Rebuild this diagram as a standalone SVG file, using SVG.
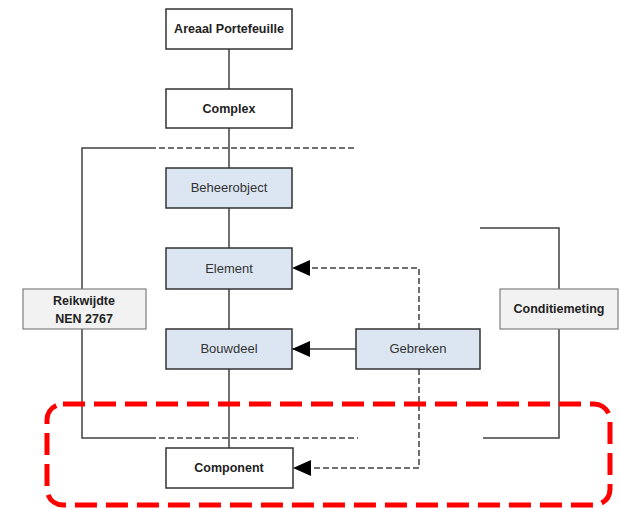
<svg xmlns="http://www.w3.org/2000/svg" width="621" height="508" viewBox="0 0 621 508">
<defs>
<marker id="ah" markerWidth="18" markerHeight="16" refX="18" refY="8" orient="auto" markerUnits="userSpaceOnUse">
<path d="M0,0 L18,8 L0,16 Z" fill="#000"/>
</marker>
<style>
.box{fill:#fff;stroke:#333;stroke-width:1.5}
.blue{fill:#dce6f2;stroke:#333;stroke-width:1.5}
.gray{fill:#f2f2f2;stroke:#7f7f7f;stroke-width:1.2}
.t{font-family:"Liberation Sans",Arial,sans-serif;font-size:13px;fill:#333;text-anchor:middle}
.b{font-weight:bold;font-size:12.5px;fill:#222}
.ln{stroke:#404040;stroke-width:1.5;fill:none}
.dl{stroke:#404040;stroke-width:1.5;fill:none;stroke-dasharray:6,3}
.red{fill:none;stroke:#ff0000;stroke-width:5;stroke-dasharray:22,9}
</style>
</defs>
<g id="connectors">
<line class="ln" x1="229" y1="49" x2="229" y2="448"/>
<polyline class="ln" points="150,148 82,148 82,289"/>
<line class="dl" x1="150" y1="148" x2="357" y2="148"/>
<polyline class="ln" points="82,329 82,438 150,438"/>
<line class="dl" x1="150" y1="438" x2="358" y2="438"/>
<polyline class="ln" points="480,228 559,228 559,289"/>
<polyline class="ln" points="559,329 559,438 483,438"/>
<line class="ln" x1="356" y1="349" x2="292" y2="349" marker-end="url(#ah)"/>
<polyline class="dl" points="419,329 419,268 292,268" marker-end="url(#ah)"/>
<polyline class="dl" points="419,369 419,468 293,468" marker-end="url(#ah)"/>
</g>
<g id="areaal"><rect class="box" x="166" y="9" width="126" height="40"/><text class="t b" x="229" y="33">Areaal Portefeuille</text></g>
<g id="complex"><rect class="box" x="166" y="89" width="126" height="39"/><text class="t b" x="229" y="113">Complex</text></g>
<g id="beheerobject"><rect class="blue" x="166" y="168" width="126" height="40"/><text class="t" x="229" y="192">Beheerobject</text></g>
<g id="element"><rect class="blue" x="166" y="248" width="126" height="41"/><text class="t" x="229" y="273">Element</text></g>
<g id="bouwdeel"><rect class="blue" x="166" y="329" width="126" height="40"/><text class="t" x="229" y="353">Bouwdeel</text></g>
<g id="gebreken"><rect class="blue" x="356" y="329" width="124" height="40"/><text class="t" x="418" y="353">Gebreken</text></g>
<g id="component"><rect class="box" x="166" y="448" width="127" height="40"/><text class="t b" x="229" y="472">Component</text></g>
<g id="reikwijdte"><rect class="gray" x="23" y="289" width="123" height="40"/><text class="t b" x="84" y="305">Reikwijdte</text><text class="t b" x="84" y="323">NEN 2767</text></g>
<g id="conditiemeting"><rect class="gray" x="500" y="289" width="118" height="40"/><text class="t b" x="559" y="313">Conditiemeting</text></g>
<g id="highlight"><rect class="red" x="47" y="404" width="563" height="101" rx="16" ry="16"/></g>
</svg>
